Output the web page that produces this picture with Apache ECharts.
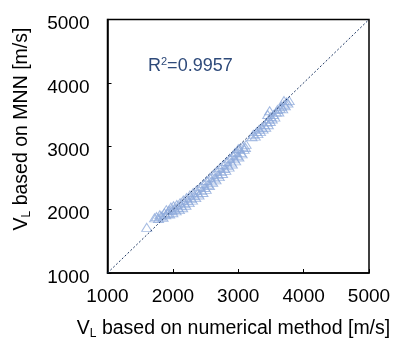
<!DOCTYPE html>
<html><head><meta charset="utf-8">
<script src="https://cdn.jsdelivr.net/npm/echarts@6/dist/echarts.min.js"></script>
<style>html,body{margin:0;padding:0;background:#fff}#c{width:395px;height:343px}</style>
</head><body><div id="c"></div>
<script>
// Data
const xNumerical = [
1600,1720,1750,1780,1800,1820,1850,1870,1890,1900,1920,1940,1950,1970,1990,2000,2010,2030,2050,2060,2080,2100,
2110,2130,2150,2160,2180,2200,2210,2230,2250,2260,2280,2300,2310,2330,2350,2360,2380,2400,2420,2440,2460,2470,2490,2510,
2520,2540,2560,2570,2590,2610,2620,2640,2660,2670,2690,2710,2720,2740,2760,2770,2790,2810,2820,2840,2860,2870,2890,2910,2920,2940,2960,2970,2990,3010,3020,3040,3060,3070,3090,3110,3120,3000,2950,
3210,3230,3260,3280,3300,3320,3340,3360,3380,3400,3420,3440,3460,3470,3490,3500,3450,3480,3520,3540,3560,3580,3600,3620,3640,3660,3680,3700,3720,3740,3760,3780,3700];
const yMNN = [
1720,1870,1890,1860,1920,1900,1880,1950,1920,2000,1940,1990,1930,2040,1990,1950,2060,2010,1980,2080,2030,2000,
2110,2060,2030,2150,2100,2070,2190,2140,2110,2230,2180,2150,2270,2220,2190,2310,2260,2230,2360,2300,2270,2410,2350,2320,
2460,2400,2380,2510,2450,2430,2560,2500,2470,2610,2550,2520,2660,2600,2570,2710,2650,2620,2760,2700,2670,2810,2750,2720,2860,2800,2770,2910,2850,2830,2960,2900,2880,3000,2950,2980,3030,2960,2900,
3150,3190,3160,3230,3200,3270,3230,3300,3270,3340,3300,3380,3340,3430,3390,3470,3500,3560,3430,3500,3460,3540,3580,3540,3600,3630,3590,3660,3640,3700,3680,3720,3720];
const lineX = [1000, 5000];
const lineY = [1000, 5000];
const axisTicks = [1000, 2000, 3000, 4000, 5000];
const r2Text = '0.9957';

const chart = echarts.init(document.getElementById('c'), null, {renderer: 'canvas'});
const pts = xNumerical.map((x, i) => [x, yMNN[i]]);
const font = '"Liberation Sans", Arial, sans-serif';
const axisCommon = {
  type: 'value', min: axisTicks[0], max: axisTicks[axisTicks.length - 1], interval: 1000,
  axisLine: {show: true, onZero: false, lineStyle: {color: '#000', width: 1.5}},
  axisTick: {show: true, inside: true, length: 4, lineStyle: {color: '#000', width: 1}},
  splitLine: {show: false},
  axisLabel: {color: '#000', fontSize: 19, fontFamily: font, formatter: v => String(v)}
};
chart.setOption({
  animation: false,
  grid: {left: 107.5, right: 26, top: 19.5, bottom: 70, show: true, borderColor: '#000', borderWidth: 1.5, backgroundColor: 'transparent'},
  xAxis: Object.assign({}, axisCommon, {axisLabel: Object.assign({}, axisCommon.axisLabel, {margin: 14})}),
  yAxis: Object.assign({}, axisCommon, {axisLabel: Object.assign({}, axisCommon.axisLabel, {
    margin: 18, formatter: v => '{a|' + v + '}',
    rich: {a: {fontSize: 19, fontFamily: font, color: '#000', padding: [9, 0, 0, 0]}}})}),
  series: [
    {type: 'line', data: lineX.map((x, i) => [x, lineY[i]]), symbol: 'none', silent: true,
     lineStyle: {color: '#1f3864', width: 1, type: [2, 2]}},
    {type: 'scatter', data: pts, symbol: 'triangle', symbolSize: [10, 8],
     itemStyle: {color: 'rgba(255,255,255,0)', borderColor: '#8eaadb', borderWidth: 1}}
  ],
  graphic: [
    {type: 'text', left: 148, top: 56, style: {
      rich: {n: {fontSize: 18, fontFamily: font, fill: '#2e4a7a'}, s: {fontSize: 11, fontFamily: font, fill: '#2e4a7a', verticalAlign: 'top', padding: [0, 0, 9, 0]}},
      text: '{n|R}{s|2}{n|=' + r2Text + '}'}},
    {type: 'text', x: 233.5, y: 329, style: {
      align: 'center', verticalAlign: 'middle',
      rich: {n: {fontSize: 19.5, fontFamily: font, fill: '#000'}, s: {fontSize: 12, fontFamily: font, fill: '#000', padding: [9, 0, 0, 0]}},
      text: '{n|V}{s|L}{n| based on numerical method [m/s]}'}},
    {type: 'text', x: 22, y: 129, rotation: Math.PI / 2, style: {
      align: 'center', verticalAlign: 'middle',
      rich: {n: {fontSize: 19.5, fontFamily: font, fill: '#000'}, s: {fontSize: 12, fontFamily: font, fill: '#000', padding: [9, 0, 0, 0]}},
      text: '{n|V}{s|L}{n| based on MNN [m/s]}'}}
  ]
});
</script></body></html>
